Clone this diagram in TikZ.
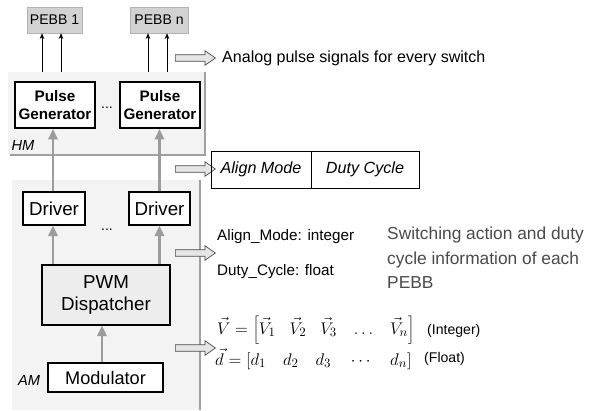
\documentclass[tikz,border=0pt]{standalone}
\usepackage{fontspec}
\setmainfont{Liberation Sans}
\usetikzlibrary{shapes.arrows,arrows.meta}

\definecolor{panelgray}{HTML}{F3F3F3}
\definecolor{edgegray}{HTML}{A0A0A0}
\definecolor{flowgray}{HTML}{9C9C9C}
\definecolor{pebbgray}{HTML}{D2D2D2}
\definecolor{notegray}{HTML}{4A4A4A}

\tikzset{
  pebbbox/.style={fill=pebbgray,draw=pebbgray!85!black,line width=0.3pt,inner sep=0pt,minimum height=0.78cm,font=\fontsize{12}{14}\selectfont},
  genbox/.style={draw=black,fill=white,line width=1.6pt,align=center,inner sep=0pt,minimum width=2.4cm,minimum height=1.38cm,font=\bfseries\fontsize{13}{15}\selectfont},
  drvbox/.style={draw=black,fill=white,line width=1pt,inner sep=0pt,minimum height=0.99cm,font=\fontsize{16}{18}\selectfont},
  dispbox/.style={draw=black,fill=black!7,line width=1pt,align=center,inner sep=0pt,minimum width=3.84cm,minimum height=1.8cm,font=\fontsize{16}{19}\selectfont},
  modbox/.style={draw=black,fill=white,line width=1pt,inner sep=0pt,minimum width=3.45cm,minimum height=0.87cm,font=\fontsize{15.5}{18}\selectfont},
  fieldbox/.style={draw=black,line width=0.6pt,inner sep=0pt,minimum height=1.11cm,font=\itshape\fontsize{13.8}{16}\selectfont},
  layerlabel/.style={font=\itshape\fontsize{12.5}{14}\selectfont},
  dots/.style={anchor=base,font=\fontsize{12}{14}\selectfont},
  plain/.style={anchor=west,inner sep=0pt,font=\fontsize{13}{15}\selectfont},
  note/.style={anchor=west,inner sep=0pt,align=left,text=notegray,font=\fontsize{14.8}{21}\selectfont},
  eqn/.style={anchor=west,inner sep=0pt,font=\fontsize{15.5}{18}\selectfont},
  hollow/.style={single arrow,draw=black!70,fill=black!10,line width=0.6pt,inner xsep=0pt,inner ysep=2.55pt,
    minimum height=1.2cm,single arrow head extend=3.4pt,single arrow tip angle=70},
  flow/.style={draw=flowgray,line width=2pt,-{Triangle[width=8pt,length=9pt]}},
  pulse/.style={draw=black,line width=0.7pt,-{Stealth[width=4pt,length=5pt]}},
}

\begin{document}
\begin{tikzpicture}[x=0.03cm,y=-0.03cm]
\useasboundingbox (0,0) rectangle (597,410);

% layers
\fill[panelgray] (8,72) rectangle (205,155);
\draw[edgegray,line width=1.5pt] (10,155) -- (205,155) -- (205,72);
\fill[panelgray] (12,180) rectangle (200,410);
\draw[edgegray,line width=1.5pt] (200,180) -- (200,410);
\node[layerlabel] (hm) at (23,145) {HM};
\node[layerlabel] (am) at (29,380) {AM};

% blocks
\node[pebbbox,minimum width=1.65cm] (pebb1) at (54.5,20) {PEBB 1};
\node[pebbbox,minimum width=1.74cm] (pebbn) at (159,20) {PEBB n};
\node[genbox] (gen1) at (55,105) {Pulse\\Generator};
\node[genbox] (gen2) at (160,105) {Pulse\\Generator};
\node[dots] (dotsgen) at (107,108) {...};
\node[drvbox,minimum width=1.86cm] (drv1) at (54,208.5) {Driver};
\node[drvbox,minimum width=1.83cm] (drv2) at (159.5,208.5) {Driver};
\node[dots] (dotsdrv) at (107,230) {...};
\node[dispbox] (pwm) at (106,295) {PWM\\Dispatcher};
\node[modbox] (mod) at (105.5,377.5) {Modulator};

% pulse lines to the PEBBs
\coordinate (p1a) at (42,72);
\coordinate (p1b) at (61,72);
\coordinate (pna) at (148,72);
\coordinate (pnb) at (167,72);
\draw[pulse] (p1a) -- (pebb1.south -| p1a);
\draw[pulse] (p1b) -- (pebb1.south -| p1b);
\draw[pulse] (pna) -- (pebbn.south -| pna);
\draw[pulse] (pnb) -- (pebbn.south -| pnb);

% data flow
\draw[flow] (drv1.north -| 53,0) -- (gen1.south -| 53,0);
\draw[flow] (drv2.north) -- (gen2.south -| drv2.north);
\draw[flow] (pwm.north -| 53,0) -- (drv1.south -| 53,0);
\draw[flow] (pwm.north -| drv2.south) -- (drv2.south);
\draw[flow] (mod.north -| 102,0) -- (pwm.south -| 102,0);

% hollow arrows
\node[hollow] (arr1) at (193,58) {};
\node[hollow] (arr2) at (193,169) {};
\node[hollow] (arr3) at (193,253) {};
\node[hollow] (arr4) at (193,348) {};

% descriptions
\node[plain,font=\fontsize{13.7}{16}\selectfont] (analog) at (222,58) {Analog pulse signals for every switch};
\node[fieldbox,minimum width=3cm] (align) at (261,169.5) {Align Mode};
\node[fieldbox,minimum width=3.24cm] (duty) at (365,169.5) {Duty Cycle};
\node[plain] (aligntype) at (217,237) {Align\_Mode: integer};
\node[plain] (dutytype) at (217,272) {Duty\_Cycle: float};
\node[note] (info) at (387,258) {Switching action and duty\\cycle information of each\\PEBB};
\node[eqn] (eqv) at (217,330) {$\vec{V}=\left[\vec{V}_1\;\;\;\vec{V}_2\;\;\;\vec{V}_3\;\;\;\ldots\;\;\;\vec{V}_n\right]$};
\node[plain,font=\fontsize{12}{14}\selectfont] (intlabel) at (427,331) {(Integer)};
\node[eqn] (eqd) at (215,359) {$\vec{d}=\left[d_1\;\;\;\,d_2\;\;\;\,d_3\;\;\;\,\cdots\;\;\;\,d_n\right]$};
\node[plain,font=\fontsize{12}{14}\selectfont] (floatlabel) at (424,359) {(Float)};
\end{tikzpicture}
\end{document}
